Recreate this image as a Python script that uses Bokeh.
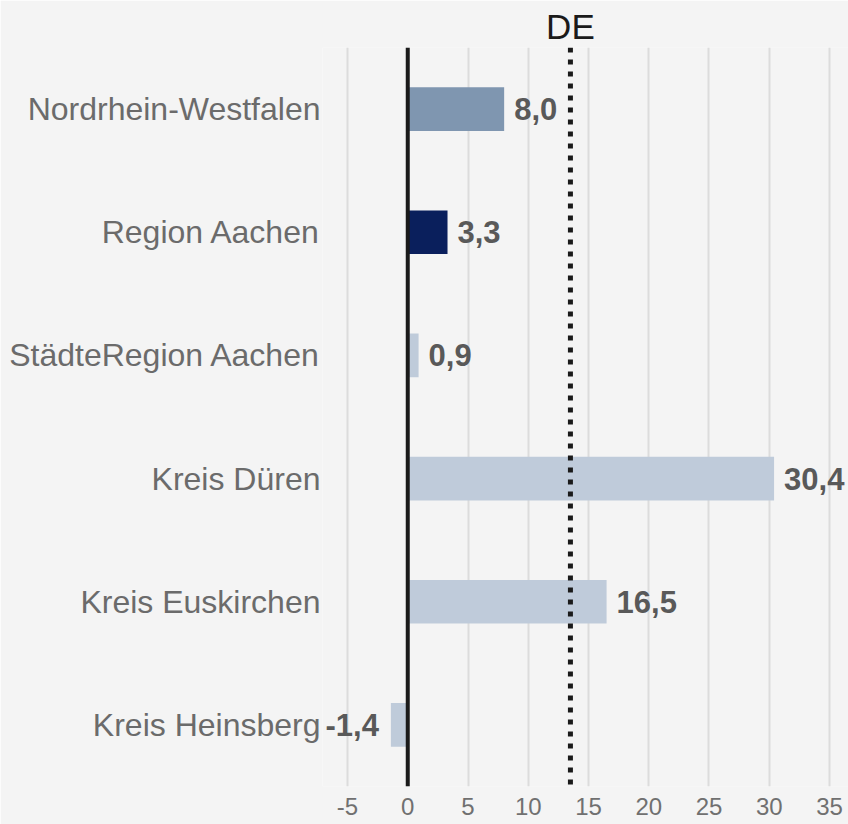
from bokeh.plotting import figure
from bokeh.models import Range1d, FactorRange, FixedTicker, LinearAxis, Span, ColumnDataSource
from bokeh.core.properties import value
from bokeh.embed import file_html
from bokeh.resources import INLINE

# ---- data ----
categories = ["Nordrhein-Westfalen", "Region Aachen", "StädteRegion Aachen",
              "Kreis Düren", "Kreis Euskirchen", "Kreis Heinsberg"]
values = [8.0, 3.3, 0.9, 30.4, 16.5, -1.4]
de_value = 13.5
de_label = "DE"
x_ticks = [-5, 0, 5, 10, 15, 20, 25, 30, 35]

# ---- styles ----
bar_colors = ["#7F96B0", "#0A1F5C", "#BFCBDA", "#BFCBDA", "#BFCBDA", "#BFCBDA"]
BG = "#f4f4f4"
FONT = "Liberation Sans"

labels = [f"{v:.1f}".replace(".", ",") for v in values]

src = ColumnDataSource(dict(cat=categories, val=values, color=bar_colors))
pos = [i for i, v in enumerate(values) if v >= 0]
neg = [i for i, v in enumerate(values) if v < 0]
pos_src = ColumnDataSource(dict(cat=[categories[i] for i in pos],
                                val=[values[i] for i in pos],
                                label=[labels[i] for i in pos]))
neg_src = ColumnDataSource(dict(cat=[categories[i] for i in neg],
                                val=[values[i] for i in neg],
                                label=[labels[i] for i in neg]))

p = figure(width=848, height=824,
           y_range=FactorRange(factors=categories[::-1]),
           x_range=Range1d(-7.075, 36.577),
           output_backend="svg", toolbar_location=None,
           min_border_left=322, min_border_right=0,
           min_border_top=47, min_border_bottom=38)

p.background_fill_color = BG
p.border_fill_color = BG
p.outline_line_color = None

p.hbar(y="cat", right="val", left=0, height=0.355, fill_color="color",
       line_color=None, source=src)

text_kw = dict(y="cat", text="label", text_baseline="middle",
               text_font=value(FONT), text_font_style="bold",
               text_font_size="31px", text_color="#595959")
p.text(x="val", source=pos_src, text_align="left", x_offset=10, **text_kw)
p.text(x="val", source=neg_src, text_align="right", x_offset=-12, **text_kw)

ticker = FixedTicker(ticks=x_ticks)
p.xaxis.ticker = ticker
p.xaxis.major_label_overrides = {t: str(t) for t in x_ticks}
p.xaxis.axis_line_color = None
p.xaxis.major_tick_line_color = None
p.xaxis.minor_tick_line_color = None
p.xaxis.major_tick_out = 0
p.xaxis.major_label_standoff = 11
p.xaxis.major_label_text_font = FONT
p.xaxis.major_label_text_font_size = "24px"
p.xaxis.major_label_text_color = "#707070"

p.xgrid.ticker = ticker
p.xgrid.grid_line_color = "#dcdcdc"
p.xgrid.grid_line_width = 2
p.ygrid.grid_line_color = None

p.yaxis.axis_line_color = None
p.yaxis.major_tick_line_color = None
p.yaxis.minor_tick_line_color = None
p.yaxis.major_tick_out = 0
p.yaxis.major_label_standoff = 2
p.yaxis.major_label_text_font = FONT
p.yaxis.major_label_text_font_size = "32px"
p.yaxis.major_label_text_color = "#6b6b6b"

top_axis = LinearAxis(ticker=FixedTicker(ticks=[de_value]),
                      major_label_overrides={de_value: de_label})
top_axis.axis_line_color = None
top_axis.major_tick_line_color = None
top_axis.minor_tick_line_color = None
top_axis.major_tick_out = 0
top_axis.major_label_standoff = 2
top_axis.major_label_text_font = FONT
top_axis.major_label_text_font_size = "35px"
top_axis.major_label_text_color = "#1a1a1a"
p.add_layout(top_axis, "above")

p.add_layout(Span(location=0, dimension="height", line_color="#1a1a1a", line_width=4))
p.add_layout(Span(location=de_value, dimension="height", line_color="#1a1a1a",
                  line_width=5, line_dash="5 7"))

html = file_html(p, INLINE)
html = html.replace("<body>", '<body style="background-color:#f4f4f4;">', 1)
open("out.html", "w").write(html)
